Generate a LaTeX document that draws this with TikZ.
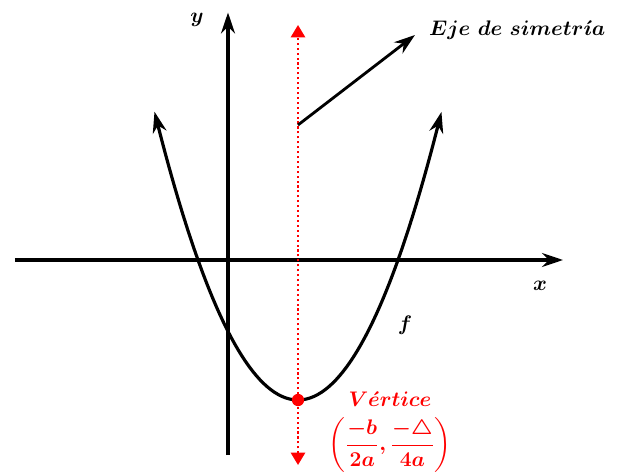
\documentclass[tikz,border=0pt]{standalone}
\usepackage{amsmath}
\usepackage{amssymb}
\usepackage{tikz}
\usetikzlibrary{arrows.meta,positioning}

\begin{document}
\begin{tikzpicture}[font=\fontsize{13}{15}\selectfont]
\useasboundingbox (-4.56,-4.3) rectangle (7.86,5.2);
% ejes
\draw[line width=1.8pt,-{Stealth[length=12pt,width=8pt]}](-4.26,0)--(6.7,0);
\draw[line width=1.8pt,-{Stealth[length=12pt,width=8pt]}](0,-3.9)--(0,4.95);
% eje de simetria
\draw[red,line width=1.3pt,dash pattern=on 1.2pt off 1.6pt,{Triangle[length=7pt,width=8pt]}-{Triangle[length=7pt,width=8pt]}](1.4,-4.1)--(1.4,4.7);
% parabola
\draw[line width=1.8pt,{Stealth[length=12pt,width=8pt]}-{Stealth[length=12pt,width=8pt]},domain=-2.87:2.87,samples=80]
plot({1.4+\x},{0.7*\x*\x-2.8});
\fill[red](1.4,-2.8)circle(3.5pt);
% flecha
\coordinate (pie) at (1.4,2.7);
\coordinate (punta) at (3.74,4.5);
\draw[line width=1.6pt,-{Stealth[length=12pt,width=8pt]}](pie)--(punta);
\node[anchor=west](eje) at (3.9,4.6){$\boldsymbol{Eje\ de\ simetr\acute{\imath}a}$};
\node(ly) at (-0.62,4.8){$\boldsymbol{y}$};
\node(lx) at (6.24,-0.52){$\boldsymbol{x}$};
\node(lf) at (3.54,-1.3){$\boldsymbol{f}$};
\node[red,inner sep=1pt](vert) at (3.24,-2.78){$\boldsymbol{V\acute{e}rtice}$};
\node[red,inner sep=1pt,below=4pt of vert](coord){$\boldsymbol{\left(\dfrac{-b}{2a},\dfrac{-\triangle}{4a}\right)}$};
\end{tikzpicture}
\end{document}
